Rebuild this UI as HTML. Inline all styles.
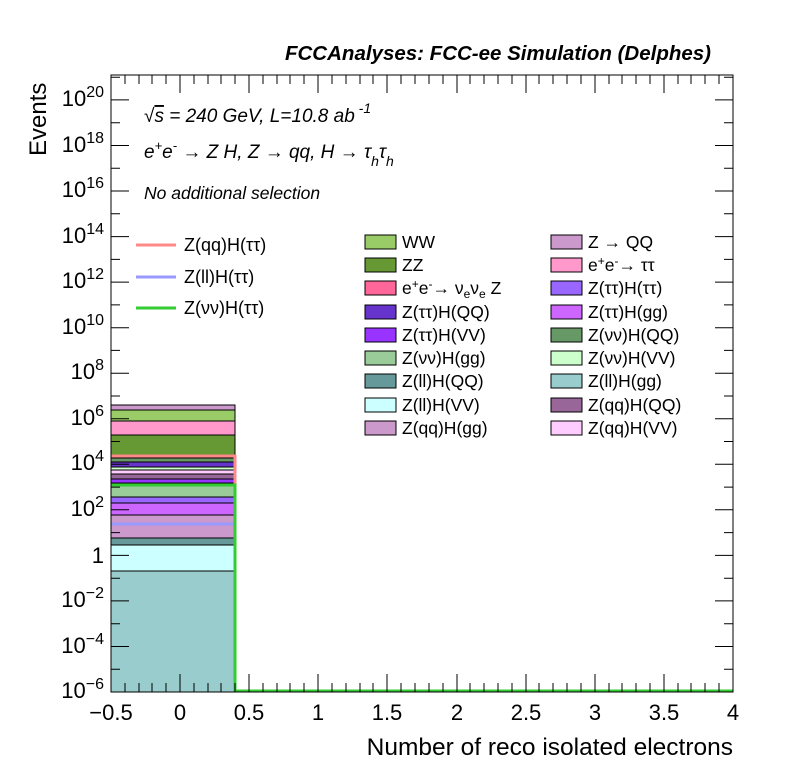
<!DOCTYPE html>
<html><head><meta charset="utf-8"><style>body{margin:0;background:#fff}svg text{font-family:"Liberation Sans",sans-serif}</style></head><body>
<svg width="796" height="772" viewBox="0 0 796 772" xmlns="http://www.w3.org/2000/svg">
<rect width="796" height="772" fill="#fff"/>
<g stroke="#000" stroke-width="1">
<rect x="111" y="405" width="124" height="287" fill="#cc99cc"/>
<rect x="111" y="410" width="124" height="11" fill="#99cc66"/>
<rect x="111" y="421" width="124" height="14" fill="#ff99cc"/>
<rect x="111" y="435" width="124" height="20" fill="#669933"/>
<rect x="111" y="455" width="124" height="3" fill="#ff6699"/>
<rect x="111" y="458" width="124" height="4" fill="#669966"/>
<rect x="111" y="462" width="124" height="5" fill="#6633cc"/>
<rect x="111" y="467" width="124" height="3" fill="#ccffcc"/>
<rect x="111" y="470" width="124" height="4" fill="#ffccff"/>
<rect x="111" y="474" width="124" height="5" fill="#996699"/>
<rect x="111" y="479" width="124" height="4" fill="#9933ff"/>
<rect x="111" y="483" width="124" height="14" fill="#99cc99"/>
<rect x="111" y="497" width="124" height="6" fill="#9966ff"/>
<rect x="111" y="503" width="124" height="12" fill="#cc66ff"/>
<rect x="111" y="515" width="124" height="23" fill="#cc99cc"/>
<rect x="111" y="538" width="124" height="7" fill="#669999"/>
<rect x="111" y="545" width="124" height="26" fill="#ccffff"/>
<rect x="111" y="571" width="124" height="121" fill="#99cccc"/>
</g>
<line x1="111" y1="524" x2="235" y2="524" stroke="#9999ff" stroke-width="3"/>
<polyline points="111,456 235,456 235,485" fill="none" stroke="#ff8888" stroke-width="3"/>
<polyline points="111,485 235,485 235,691 733,691" fill="none" stroke="#33cc33" stroke-width="3"/>
<rect x="111" y="75" width="622" height="617" fill="none" stroke="#000"/>
<g stroke="#000" stroke-width="1">
<path d="M111,692v-18M249,692v-18M387,692v-18M526,692v-18M664,692v-18M180,692v-18M318,692v-18M457,692v-18M595,692v-18M733,692v-18
M111,75v18M249,75v18M387,75v18M526,75v18M664,75v18M180,75v18M318,75v18M457,75v18M595,75v18"/>
<path d="M125,692v-9M139,692v-9M152,692v-9M166,692v-9M194,692v-9M208,692v-9M221,692v-9M235,692v-9M263,692v-9M277,692v-9M290,692v-9M304,692v-9M332,692v-9M346,692v-9M360,692v-9M373,692v-9M401,692v-9M415,692v-9M429,692v-9M443,692v-9M470,692v-9M484,692v-9M498,692v-9M512,692v-9M539,692v-9M553,692v-9M567,692v-9M581,692v-9M609,692v-9M622,692v-9M636,692v-9M650,692v-9M678,692v-9M691,692v-9M705,692v-9M719,692v-9
M125,75v9M139,75v9M152,75v9M166,75v9M194,75v9M208,75v9M221,75v9M235,75v9M263,75v9M277,75v9M290,75v9M304,75v9M332,75v9M346,75v9M360,75v9M373,75v9M401,75v9M415,75v9M429,75v9M443,75v9M470,75v9M484,75v9M498,75v9M512,75v9M539,75v9M553,75v9M567,75v9M581,75v9M609,75v9M622,75v9M636,75v9M650,75v9M678,75v9M691,75v9M705,75v9M719,75v9"/>
<path d="M111,692h18M111,646.5h18M111,600.9h18M111,555.4h18M111,509.8h18M111,464.3h18M111,418.8h18M111,373.2h18M111,327.7h18M111,282.1h18M111,236.6h18M111,191h18M111,145.5h18M111,99.9h18
M111,669.2h9M111,623.7h9M111,578.2h9M111,532.6h9M111,487.1h9M111,441.5h9M111,396h9M111,350.4h9M111,304.9h9M111,259.4h9M111,213.8h9M111,168.3h9M111,122.7h9M111,77.2h9
M733,692h-18M733,646.5h-18M733,600.9h-18M733,555.4h-18M733,509.8h-18M733,464.3h-18M733,418.8h-18M733,373.2h-18M733,327.7h-18M733,282.1h-18M733,236.6h-18M733,191h-18M733,145.5h-18M733,99.9h-18
M733,669.2h-9M733,623.7h-9M733,578.2h-9M733,532.6h-9M733,487.1h-9M733,441.5h-9M733,396h-9M733,350.4h-9M733,304.9h-9M733,259.4h-9M733,213.8h-9M733,168.3h-9M733,122.7h-9M733,77.2h-9"/>
</g>
<g font-size="22" text-anchor="middle" fill="#000">
<text x="111" y="720">−0.5</text><text x="180" y="720">0</text><text x="249" y="720">0.5</text><text x="318" y="720">1</text><text x="387" y="720">1.5</text><text x="457" y="720">2</text><text x="526" y="720">2.5</text><text x="595" y="720">3</text><text x="664" y="720">3.5</text><text x="733" y="720">4</text>
</g>
<g font-size="22" text-anchor="end" fill="#000">
<text x="104" y="106">10<tspan font-size="16" dy="-9">20</tspan></text>
<text x="104" y="152">10<tspan font-size="16" dy="-9">18</tspan></text>
<text x="104" y="197">10<tspan font-size="16" dy="-9">16</tspan></text>
<text x="104" y="243">10<tspan font-size="16" dy="-9">14</tspan></text>
<text x="104" y="288">10<tspan font-size="16" dy="-9">12</tspan></text>
<text x="104" y="334">10<tspan font-size="16" dy="-9">10</tspan></text>
<text x="104" y="379">10<tspan font-size="16" dy="-9">8</tspan></text>
<text x="104" y="425">10<tspan font-size="16" dy="-9">6</tspan></text>
<text x="104" y="470">10<tspan font-size="16" dy="-9">4</tspan></text>
<text x="104" y="516">10<tspan font-size="16" dy="-9">2</tspan></text>
<text x="104" y="563">1</text>
<text x="104" y="607">10<tspan font-size="16" dy="-9">−2</tspan></text>
<text x="104" y="653">10<tspan font-size="16" dy="-9">−4</tspan></text>
<text x="104" y="698">10<tspan font-size="16" dy="-9">−6</tspan></text>
</g>
<text x="733" y="755" font-size="24.5" text-anchor="end">Number of reco isolated electrons</text>
<text transform="translate(46,156) rotate(-90)" font-size="24" text-anchor="start">Events</text>
<text x="711" y="60" font-size="20.5" font-weight="bold" font-style="italic" text-anchor="end">FCCAnalyses: FCC-ee Simulation (Delphes)</text>
<g font-size="19" font-style="italic">
<text x="144" y="122">√<tspan text-decoration="overline">s</tspan> = 240 GeV, L=10.8 ab<tspan font-size="14" dy="-9"> -1</tspan></text>
<text x="144" y="158">e<tspan font-size="13" dy="-8">+</tspan><tspan dy="8">e</tspan><tspan font-size="13" dy="-8">-</tspan><tspan dy="8"> → Z H, Z  → qq, H  → τ</tspan><tspan font-size="14" dy="8">h</tspan><tspan dy="-8">τ</tspan><tspan font-size="14" dy="8">h</tspan></text>
<text x="144" y="199" font-size="17.5">No additional selection</text>
</g>
<g font-size="18">
<line x1="136" y1="245" x2="176" y2="245" stroke="#ff8888" stroke-width="3"/><text x="184" y="251">Z(qq)H(ττ)</text>
<line x1="136" y1="277" x2="176" y2="277" stroke="#9999ff" stroke-width="3"/><text x="184" y="283">Z(ll)H(ττ)</text>
<line x1="136" y1="308" x2="176" y2="308" stroke="#33cc33" stroke-width="3"/><text x="184" y="314">Z(νν)H(ττ)</text>
</g>
<g font-size="17.5" stroke-width="1">
<g stroke="#000">
<rect x="365" y="235" width="31" height="14" fill="#99cc66"/><rect x="365" y="258" width="31" height="14" fill="#669933"/><rect x="365" y="281" width="31" height="14" fill="#ff6699"/><rect x="365" y="305" width="31" height="14" fill="#6633cc"/><rect x="365" y="328" width="31" height="14" fill="#9933ff"/><rect x="365" y="351" width="31" height="14" fill="#99cc99"/><rect x="365" y="374" width="31" height="14" fill="#669999"/><rect x="365" y="398" width="31" height="14" fill="#ccffff"/><rect x="365" y="421" width="31" height="14" fill="#cc99cc"/>
<rect x="551" y="235" width="31" height="14" fill="#cc99cc"/><rect x="551" y="258" width="31" height="14" fill="#ff99cc"/><rect x="551" y="281" width="31" height="14" fill="#9966ff"/><rect x="551" y="305" width="31" height="14" fill="#cc66ff"/><rect x="551" y="328" width="31" height="14" fill="#669966"/><rect x="551" y="351" width="31" height="14" fill="#ccffcc"/><rect x="551" y="374" width="31" height="14" fill="#99cccc"/><rect x="551" y="398" width="31" height="14" fill="#996699"/><rect x="551" y="421" width="31" height="14" fill="#ffccff"/>
</g>
<text x="402" y="248">WW</text><text x="402" y="271">ZZ</text><text x="402" y="294">e<tspan font-size="12" dy="-6">+</tspan><tspan dy="6">e</tspan><tspan font-size="12" dy="-6">-</tspan><tspan dy="6">→ ν</tspan><tspan font-size="12" dy="4">e</tspan><tspan dy="-4">ν</tspan><tspan font-size="12" dy="4">e</tspan><tspan dy="-4"> Z</tspan></text>
<text x="402" y="318">Z(ττ)H(QQ)</text><text x="402" y="341">Z(ττ)H(VV)</text><text x="402" y="364">Z(νν)H(gg)</text><text x="402" y="387">Z(ll)H(QQ)</text><text x="402" y="411">Z(ll)H(VV)</text><text x="402" y="434">Z(qq)H(gg)</text>
<text x="588" y="248">Z → QQ</text><text x="588" y="271">e<tspan font-size="12" dy="-6">+</tspan><tspan dy="6">e</tspan><tspan font-size="12" dy="-6">-</tspan><tspan dy="6">→ ττ</tspan></text><text x="588" y="294">Z(ττ)H(ττ)</text><text x="588" y="318">Z(ττ)H(gg)</text><text x="588" y="341">Z(νν)H(QQ)</text><text x="588" y="364">Z(νν)H(VV)</text><text x="588" y="387">Z(ll)H(gg)</text><text x="588" y="411">Z(qq)H(QQ)</text><text x="588" y="434">Z(qq)H(VV)</text>
</g>
</svg>
</body></html>
